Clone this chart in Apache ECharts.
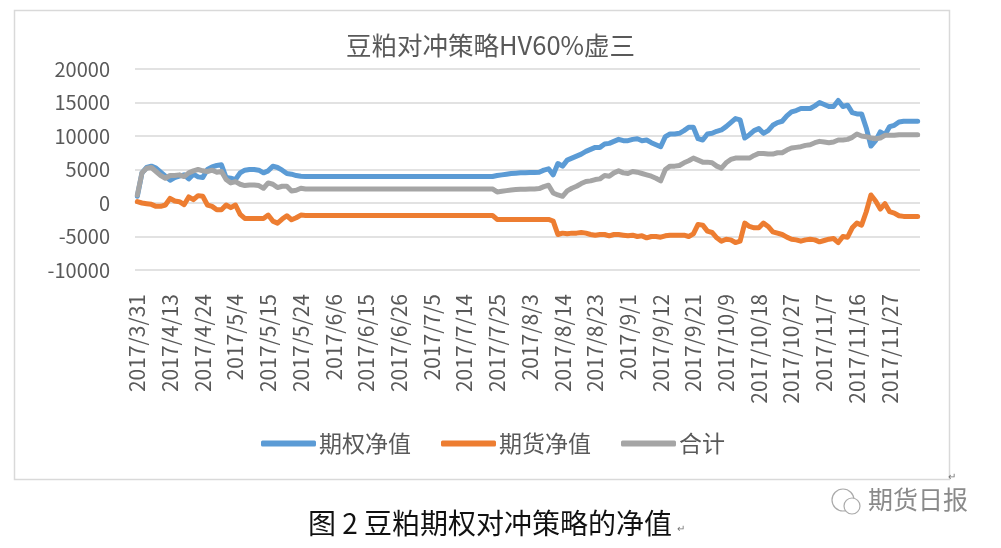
<!doctype html>
<html lang="zh">
<head>
    <meta charset="UTF-8">
    <title>豆粕对冲策略HV60%虚三</title>
    <script type="text/javascript" src="https://cdn.jsdelivr.net/npm/echarts@6/dist/echarts.min.js"></script>
    <style>
        html, body { margin: 0; padding: 0; background: #fff; }
        #main { width: 1001px; height: 548px; }
    </style>
</head>
<body>
<div id="main"></div>
<script type="text/javascript">
    // 交易日
    var dates = [
        '2017/3/31',
        '2017/4/5', '2017/4/6', '2017/4/7', '2017/4/10', '2017/4/11', '2017/4/12', '2017/4/13', '2017/4/14',
        '2017/4/17', '2017/4/18', '2017/4/19', '2017/4/20', '2017/4/21', '2017/4/24', '2017/4/25', '2017/4/26',
        '2017/4/27', '2017/4/28',
        '2017/5/2', '2017/5/3', '2017/5/4', '2017/5/5', '2017/5/8', '2017/5/9', '2017/5/10', '2017/5/11',
        '2017/5/12', '2017/5/15', '2017/5/16', '2017/5/17', '2017/5/18', '2017/5/19', '2017/5/22', '2017/5/23',
        '2017/5/24', '2017/5/25', '2017/5/26', '2017/5/31',
        '2017/6/1', '2017/6/2', '2017/6/5', '2017/6/6', '2017/6/7', '2017/6/8', '2017/6/9', '2017/6/12',
        '2017/6/13', '2017/6/14', '2017/6/15', '2017/6/16', '2017/6/19', '2017/6/20', '2017/6/21', '2017/6/22',
        '2017/6/23', '2017/6/26', '2017/6/27', '2017/6/28', '2017/6/29', '2017/6/30',
        '2017/7/3', '2017/7/4', '2017/7/5', '2017/7/6', '2017/7/7', '2017/7/10', '2017/7/11', '2017/7/12',
        '2017/7/13', '2017/7/14', '2017/7/17', '2017/7/18', '2017/7/19', '2017/7/20', '2017/7/21', '2017/7/24',
        '2017/7/25', '2017/7/26', '2017/7/27', '2017/7/28', '2017/7/31',
        '2017/8/1', '2017/8/2', '2017/8/3', '2017/8/4', '2017/8/7', '2017/8/8', '2017/8/9', '2017/8/10',
        '2017/8/11', '2017/8/14', '2017/8/15', '2017/8/16', '2017/8/17', '2017/8/18', '2017/8/21', '2017/8/22',
        '2017/8/23', '2017/8/24', '2017/8/25', '2017/8/28', '2017/8/29', '2017/8/30', '2017/8/31',
        '2017/9/1', '2017/9/4', '2017/9/5', '2017/9/6', '2017/9/7', '2017/9/8', '2017/9/11', '2017/9/12',
        '2017/9/13', '2017/9/14', '2017/9/15', '2017/9/18', '2017/9/19', '2017/9/20', '2017/9/21', '2017/9/22',
        '2017/9/25', '2017/9/26', '2017/9/27', '2017/9/28', '2017/9/29',
        '2017/10/9', '2017/10/10', '2017/10/11', '2017/10/12', '2017/10/13', '2017/10/16', '2017/10/17', '2017/10/18',
        '2017/10/19', '2017/10/20', '2017/10/23', '2017/10/24', '2017/10/25', '2017/10/26', '2017/10/27', '2017/10/30',
        '2017/10/31',
        '2017/11/1', '2017/11/2', '2017/11/3', '2017/11/6', '2017/11/7', '2017/11/8', '2017/11/9', '2017/11/10',
        '2017/11/13', '2017/11/14', '2017/11/15', '2017/11/16', '2017/11/17', '2017/11/20', '2017/11/21', '2017/11/22',
        '2017/11/23', '2017/11/24', '2017/11/27', '2017/11/28', '2017/11/29', '2017/11/30',
        '2017/12/1', '2017/12/4', '2017/12/5'
    ];

    // 期权净值
    var optionNet = [
        1000, 4500, 5300, 5500, 5200, 4600, 4000, 3400, 3800, 4000,
        4200, 3600, 4300, 3900, 3800, 5000, 5400, 5600, 5700, 3800,
        3700, 3500, 4500, 4900, 5000, 5000, 4900, 4500, 4800, 5500,
        5300, 4900, 4400, 4300, 4100, 4000, 3950, 3950, 3950, 3950,
        3950, 3950, 3950, 3950, 3950, 3950, 3950, 3950, 3950, 3950,
        3950, 3950, 3950, 3950, 3950, 3950, 3950, 3950, 3950, 3950,
        3950, 3950, 3950, 3950, 3950, 3950, 3950, 3950, 3950, 3950,
        3950, 3950, 3950, 3950, 3950, 3950, 3950, 4100, 4200, 4300,
        4400, 4450, 4500, 4500, 4550, 4550, 4600, 4900, 5100, 4200,
        5900, 5500, 6400, 6700, 7000, 7300, 7700, 8000, 8300, 8300,
        8800, 8900, 9200, 9500, 9300, 9300, 9500, 9600, 9300, 9400,
        9000, 8700, 8400, 9900, 10300, 10300, 10400, 10800, 11300, 11300,
        9600, 9400, 10300, 10400, 10700, 10900, 11400, 12000, 12600, 12400,
        9700, 10200, 10800, 11100, 10400, 10800, 11600, 12000, 12200, 13000,
        13600, 13800, 14100, 14100, 14100, 14500, 15000, 14700, 14400, 14400,
        15300, 14400, 14600, 13500, 13300, 13300, 11200, 8500, 9300, 10600,
        10200, 11400, 11600, 12100, 12200, 12200, 12200, 12200
    ];

    // 期货净值
    var futuresNet = [
        200, 0, -100, -200, -500, -500, -300, 700, 300, 200,
        -250, 900, 500, 1100, 1000, -300, -500, -1000, -1000, -300,
        -700, -300, -1700, -2300, -2300, -2300, -2300, -2300, -1800, -2700,
        -3000, -2400, -1900, -2500, -2200, -1800, -1850, -1850, -1850, -1850,
        -1850, -1850, -1850, -1850, -1850, -1850, -1850, -1850, -1850, -1850,
        -1850, -1850, -1850, -1850, -1850, -1850, -1850, -1850, -1850, -1850,
        -1850, -1850, -1850, -1850, -1850, -1850, -1850, -1850, -1850, -1850,
        -1850, -1850, -1850, -1850, -1850, -1850, -1850, -2450, -2450, -2450,
        -2450, -2450, -2450, -2450, -2450, -2450, -2450, -2450, -2450, -2700,
        -4700, -4500, -4600, -4500, -4500, -4400, -4500, -4700, -4800, -4700,
        -4700, -4900, -4700, -4700, -4800, -4900, -4800, -5000, -4900, -5200,
        -5000, -5000, -5100, -4900, -4800, -4800, -4800, -4800, -5000, -4600,
        -3200, -3300, -4200, -4400, -5200, -5700, -5400, -5500, -5900, -5700,
        -3000, -3500, -3700, -3700, -3000, -3500, -4300, -4500, -4700, -5100,
        -5400, -5500, -5700, -5500, -5400, -5500, -5800, -5600, -5400, -5300,
        -5900, -5000, -5100, -3700, -3000, -3300, -1300, 1200, 300, -900,
        -100, -1300, -1500, -1900, -2000, -2000, -2000, -2000
    ];

    // 合计
    var totalNet = [
        1200, 4500, 5200, 5300, 4700, 4100, 3700, 4100, 4100, 4200,
        3950, 4500, 4800, 5000, 4800, 4700, 4900, 4600, 4700, 3500,
        3000, 3200, 2800, 2600, 2700, 2700, 2600, 2200, 3000, 2800,
        2300, 2500, 2500, 1800, 1900, 2200, 2100, 2100, 2100, 2100,
        2100, 2100, 2100, 2100, 2100, 2100, 2100, 2100, 2100, 2100,
        2100, 2100, 2100, 2100, 2100, 2100, 2100, 2100, 2100, 2100,
        2100, 2100, 2100, 2100, 2100, 2100, 2100, 2100, 2100, 2100,
        2100, 2100, 2100, 2100, 2100, 2100, 2100, 1650, 1750, 1850,
        1950, 2000, 2050, 2050, 2100, 2100, 2150, 2450, 2650, 1500,
        1200, 1000, 1800, 2200, 2500, 2900, 3200, 3300, 3500, 3600,
        4100, 4000, 4500, 4800, 4500, 4400, 4700, 4600, 4400, 4200,
        4000, 3700, 3300, 5000, 5500, 5500, 5600, 6000, 6300, 6700,
        6400, 6100, 6100, 6000, 5500, 5200, 6000, 6500, 6700, 6700,
        6700, 6700, 7100, 7400, 7400, 7300, 7300, 7500, 7500, 7900,
        8200, 8300, 8400, 8600, 8700, 9000, 9200, 9100, 9000, 9100,
        9400, 9400, 9500, 9800, 10300, 10000, 9900, 9700, 9600, 9700,
        10100, 10100, 10100, 10200, 10200, 10200, 10200, 10200
    ];

    var seriesNames = ['期权净值', '期货净值', '合计'];
    var colors = ['#5B9BD5', '#ED7D31', '#A5A5A5'];

    var font = '"Noto Sans CJK SC", "Noto Sans", sans-serif';

    var myChart = echarts.init(document.getElementById('main'));

    function lineSeries(name, data, color) {
        return {
            name: name,
            type: 'line',
            data: data,
            symbol: 'none',
            color: color,
            lineStyle: { width: 5, color: color, cap: 'round', join: 'round' }
        };
    }

    myChart.setOption({
        animation: false,
        backgroundColor: '#fff',
        textStyle: { fontFamily: font },
        title: {
            text: '豆粕对冲策略HV60%虚三',
            left: 341,
            top: 28,
            textStyle: { fontSize: 25.5, fontWeight: 'normal', color: '#595959', fontFamily: font }
        },
        legend: {
            data: seriesNames,
            left: 256,
            top: 427,
            icon: 'roundRect',
            itemWidth: 55,
            itemHeight: 6,
            itemGap: 30,
            textStyle: { fontSize: 23, color: '#595959', fontFamily: font, padding: [0, 0, 0, -2] }
        },
        grid: {
            left: 135,
            right: 81,
            top: 69,
            bottom: 278,
            containLabel: false
        },
        xAxis: {
            type: 'category',
            data: dates,
            boundaryGap: true,
            axisLine: { show: false },
            axisTick: { show: false },
            axisLabel: {
                interval: 6,
                rotate: 90,
                margin: 24,
                fontSize: 21,
                color: '#595959',
                fontFamily: font
            }
        },
        yAxis: {
            type: 'value',
            min: -10000,
            max: 20000,
            interval: 5000,
            axisLine: { show: false },
            axisTick: { show: false },
            axisLabel: {
                fontSize: 20,
                color: '#595959',
                margin: 25,
                fontFamily: font,
                formatter: function (v) { return String(v); }
            },
            splitLine: { lineStyle: { color: '#D9D9D9', width: 1.5 } }
        },
        series: [
            lineSeries(seriesNames[0], optionNet, colors[0]),
            lineSeries(seriesNames[1], futuresNet, colors[1]),
            lineSeries(seriesNames[2], totalNet, colors[2])
        ],
        graphic: [
            {
                type: 'rect',
                shape: { x: 14.5, y: 10.5, width: 935, height: 469 },
                style: { fill: 'none', stroke: '#D9D9D9', lineWidth: 1.5 },
                z: -10
            },
            {
                type: 'text',
                left: 308,
                top: 509,
                style: { text: '图 2 豆粕期权对冲策略的净值', fontSize: 28, fill: '#111', fontFamily: font }
            },
            {
                type: 'text',
                left: 677,
                top: 524,
                style: { text: '↵', fontSize: 10, fill: '#777' }
            },
            {
                type: 'text',
                left: 948,
                top: 472,
                style: { text: '↵', fontSize: 10, fill: '#777' }
            },
            {
                type: 'text',
                left: 868,
                top: 487,
                style: { text: '期货日报', fontSize: 25, fill: '#8a8a8a', fontFamily: font }
            },
            {
                type: 'circle',
                shape: { cx: 843, cy: 500, r: 11 },
                style: { fill: 'none', stroke: '#aaa', lineWidth: 1.2 }
            },
            {
                type: 'circle',
                shape: { cx: 852, cy: 506, r: 8 },
                style: { fill: '#fff', stroke: '#aaa', lineWidth: 1.2 }
            }
        ]
    });
</script>
</body>
</html>
